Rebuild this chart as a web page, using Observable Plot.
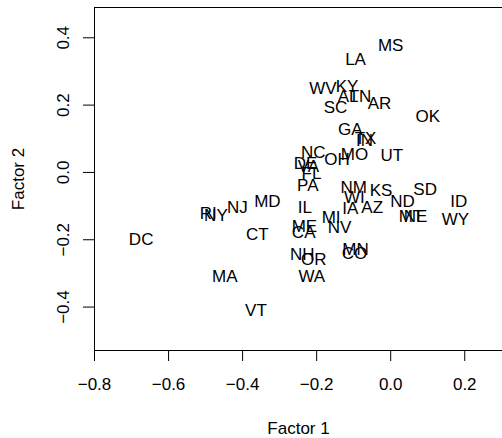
<!DOCTYPE html>
<html>
<head>
<meta charset="utf-8">
<script src="https://cdn.jsdelivr.net/npm/d3@7"></script>
<script src="https://cdn.jsdelivr.net/npm/@observablehq/plot@0.6"></script>
<style>
  html, body { margin: 0; padding: 0; background: #fff; }
  svg { display: block; }
</style>
</head>
<body>
<div id="chart"></div>
<script>
const states = ["MS","LA","WV","KY","AL","TN","SC","AR","OK","GA","TX","IN","NC","DE","VA","FL","OH","MO","UT","PA","NM","KS","SD","WI","ND","ID","IL","IA","AZ","MT","NE","WY","MI","NV","ME","CA","NH","OR","MN","CO","WA","VT","MA","CT","MD","NJ","RI","NY","DC"];
const factor1 = [0.000,-0.095,-0.183,-0.118,-0.115,-0.083,-0.149,-0.030,0.100,-0.109,-0.068,-0.071,-0.209,-0.230,-0.222,-0.214,-0.145,-0.098,0.003,-0.224,-0.100,-0.026,0.093,-0.098,0.032,0.184,-0.232,-0.109,-0.050,0.055,0.067,0.175,-0.161,-0.138,-0.233,-0.235,-0.239,-0.208,-0.095,-0.098,-0.213,-0.364,-0.448,-0.360,-0.333,-0.414,-0.493,-0.472,-0.674];
const factor2 = [0.376,0.334,0.249,0.255,0.224,0.224,0.194,0.204,0.166,0.127,0.102,0.095,0.058,0.027,0.018,-0.003,0.038,0.053,0.051,-0.039,-0.044,-0.053,-0.051,-0.074,-0.085,-0.085,-0.103,-0.108,-0.104,-0.132,-0.132,-0.139,-0.135,-0.165,-0.160,-0.180,-0.244,-0.258,-0.230,-0.240,-0.309,-0.411,-0.309,-0.186,-0.087,-0.104,-0.121,-0.129,-0.199];

const xTicks = [-0.8, -0.6, -0.4, -0.2, 0.0, 0.2];
const yTicks = [-0.4, -0.2, 0.0, 0.2, 0.4];
const xDomain = [-0.8, 0.302];
const yDomain = [-0.529, 0.490];

const data = states.map((s, i) => ({state: s, f1: factor1[i], f2: factor2[i]}));
const fmt = d3.format(".1f");

const chart = Plot.plot({
  width: 502,
  height: 438,
  marginLeft: 94,
  marginRight: 0,
  marginTop: 7,
  marginBottom: 88,
  style: {fontFamily: "'Liberation Sans', Arial, Helvetica, sans-serif", fontSize: "17px", background: "#fff", color: "#000", overflow: "visible"},
  x: {domain: xDomain},
  y: {domain: yDomain},
  marks: [
    Plot.axisX({ticks: xTicks, tickSize: 11, tickPadding: 16, tickFormat: d => fmt(d).replace("-", "\u2212"), fontSize: 17, label: "Factor 1", labelArrow: false, labelAnchor: "center", labelOffset: 83}),
    Plot.axisY({ticks: yTicks, tickSize: 11, tickPadding: 14.5, tickRotate: -90, tickFormat: d => fmt(d).replace("-", "\u2212"), fontSize: 17, label: "Factor 2", labelArrow: false, labelAnchor: "center", labelOffset: 82.5}),
    Plot.ruleX([xDomain[0]], {y1: yDomain[0], y2: yDomain[1], stroke: "#000", strokeWidth: 1}),
    Plot.ruleY([yDomain[0], yDomain[1]], {x1: xDomain[0], x2: xDomain[1], stroke: "#000", strokeWidth: 1}),
    Plot.text(data, {x: "f1", y: "f2", text: "state", fill: "#000", fontSize: 17, textAnchor: "middle", lineAnchor: "middle"})
  ]
});
document.getElementById("chart").appendChild(chart);
</script>
</body>
</html>
